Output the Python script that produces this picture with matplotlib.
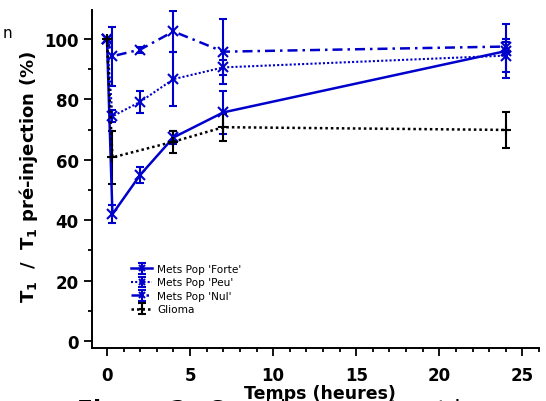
import matplotlib.pyplot as plt
from matplotlib.ticker import MultipleLocator

# temps de mesure (heures)
temps = [0, 0.33, 2, 4, 7, 24]
temps_glioma = [0, 0.33, 4, 7, 24]

# T1 / T1 pre-injection (%)
forte = [100, 42, 55, 67.4, 75.7, 96]
forte_err = [0, 3, 2.7, 2, 7, 9]
peu = [100, 74.4, 79.2, 86.7, 90.6, 94.5]
peu_err = [0, 2, 3.6, 9, 2.5, 5.5]
nul = [100, 94.3, 96.5, 102.5, 95.8, 97.5]
nul_err = [0, 9.8, 1, 6.7, 10.7, 1.5]
glioma = [100, 60.8, 66, 70.8, 69.9]
glioma_err = [0, 8.7, 3.6, 4.5, 5.9]

noms = ["Mets Pop 'Forte'", "Mets Pop 'Peu'", "Mets Pop 'Nul'", "Glioma"]
bleu = '#0000CC'

fig = plt.figure(figsize=(5.46, 4.02), dpi=100)
ax = fig.add_axes([92/546, 1-349/402, 447/546, 338/402])

kw = dict(capsize=3.2, capthick=1.5, elinewidth=1.5, markersize=7, mew=1.5)
ax.errorbar(temps, forte, yerr=forte_err, color=bleu, ls='-', lw=1.8,
            marker='x', label=noms[0], **kw)
ax.errorbar(temps, peu, yerr=peu_err, color=bleu, ls=(0, (1, 1)), lw=1.5,
            marker='x', label=noms[1], **kw)
ax.errorbar(temps, nul, yerr=nul_err, color=bleu, ls=(0, (4, 2, 1, 2)), lw=1.8,
            marker='x', label=noms[2], **kw)
ax.errorbar(temps_glioma, glioma, yerr=glioma_err, color='black', ls=(0, (1, 1.2)),
            lw=1.8, marker='+', label=noms[3], **kw)

ax.set_xlim(-0.9, 26.0)
ax.set_ylim(-2.3, 109.6)
ax.xaxis.set_major_locator(MultipleLocator(5))
ax.xaxis.set_minor_locator(MultipleLocator(1))
ax.yaxis.set_major_locator(MultipleLocator(20))
ax.yaxis.set_minor_locator(MultipleLocator(10))

for s in ['top', 'right']:
    ax.spines[s].set_visible(False)
for s in ['left', 'bottom']:
    ax.spines[s].set_linewidth(1.4)

ax.tick_params(which='major', length=6, width=1.3, direction='out', labelsize=12)
ax.tick_params(which='minor', length=3, width=1.3, direction='out')
ax.tick_params(axis='y', pad=3.5)
ax.tick_params(axis='x', pad=7)
for lab in ax.get_xticklabels() + ax.get_yticklabels():
    lab.set_fontweight('bold')

leg = ax.legend(loc='upper left', bbox_to_anchor=(131/546, 1-265/402),
                bbox_transform=fig.transFigure, frameon=False, fontsize=7.6,
                handlelength=2.0, handletextpad=0.47, labelspacing=0.33,
                borderpad=0, borderaxespad=0, markerscale=0.7)

# textes autour du graphique (extrait d'une page, legende coupee en bas)
fig.text(3/546, 1-38/402, 'n', fontsize=11, va='baseline')
fig.text(29/546, 1-176.5/402, r'T$_\mathbf{1}$  /  T$_\mathbf{1}$ pré-injection (%)',
         rotation=90, ha='center', va='center', fontsize=13, fontweight='bold')
fig.text(77/546, 1-417/402, 'Figure 2:', fontsize=16.8, fontweight='bold',
         va='baseline')
fig.text(208/546, 1-417/402, 'Graphique montrant le', fontsize=16.8,
         va='baseline')
fig.text(320/546, 1-399/402, 'Temps (heures)', ha='center', va='baseline',
         fontsize=12.5, fontweight='bold', zorder=5)

fig.savefig('out.png', dpi=100)
